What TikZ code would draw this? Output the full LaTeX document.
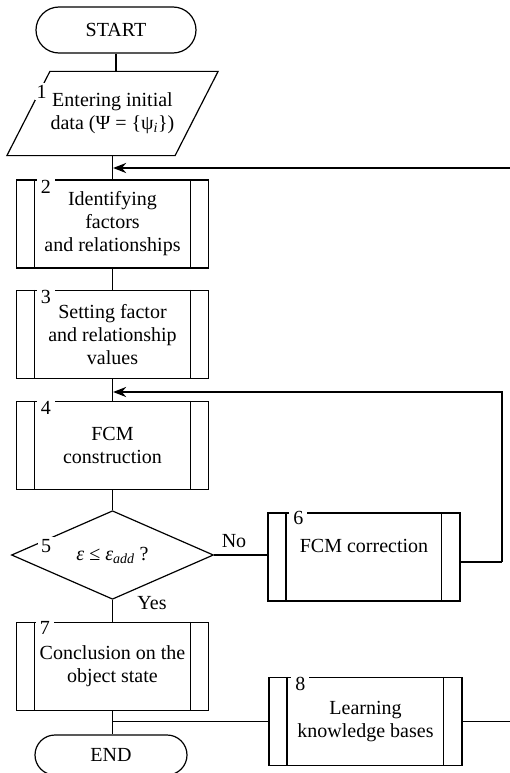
\documentclass[tikz,border=0pt]{standalone}
\usepackage{fontspec}
\setmainfont{Liberation Serif}
\usetikzlibrary{shapes.geometric,shapes.misc,arrows.meta,calc}

\begin{document}
\begin{tikzpicture}[x=1bp, y=-1bp, line width=1.2bp,
  txt/.style={font=\fontsize{20bp}{23bp}\selectfont, align=center},
  term/.style={txt, draw, rounded rectangle, minimum width=160bp, minimum height=46bp, inner sep=0pt},
  procbox/.style={txt, draw, rectangle, minimum width=192bp, minimum height=88bp, inner sep=0pt},
  numlab/.style={fill=white, inner xsep=4bp, inner ysep=2bp, font=\fontsize{20bp}{20bp}\selectfont},
  fb/.style={line width=2.2bp, line join=miter, shorten >=0.6bp, -{Stealth[length=13bp,width=10bp]}}]
\useasboundingbox (0,0) rectangle (510,773);

% terminals, input and process blocks
\node[term] (start) at (116,30) {START};
\node[txt, minimum width=210bp, minimum height=83bp, inner sep=0pt] (n1) at (112.5,113.5)
  {Entering initial\\data (Ψ = \{ψ\textsubscript{\itshape i}\})};
\draw ([xshift=43bp]n1.north west) -- (n1.north east) -- ([xshift=-43bp]n1.south east) -- (n1.south west) -- cycle;
\node[numlab, inner xsep=2bp] (l1) at (41.5,91.5) {1};

\node[procbox] (b2) at (112.5,224) {Identifying\\factors\\and relationships};
\node[procbox] (b3) at (112.5,334.5) {Setting factor\\and relationship\\values};
\node[procbox] (b4) at (112.5,445.5) {FCM\\construction};
\node[txt, draw, diamond, minimum width=202bp, minimum height=84bp, inner sep=0pt] (d5) at (112.5,555)
  {{\itshape ε} ≤ {\itshape ε}\textsubscript{\itshape add} ?};
\node[procbox] (b6) at (364,557) {FCM correction\\\mbox{}};
\node[procbox] (b7) at (112.5,666.5) {Conclusion on the\\object state};
\node[procbox, minimum width=193bp] (b8) at (365.5,721.5) {Learning\\knowledge bases};
\node[term, minimum width=152bp, minimum height=40bp] (end) at (111,755) {END};

% block numbers sitting on the frames
\node[numlab] (l2) at ([xshift=30bp,yshift=-7bp]b2.north west) {2};
\node[numlab] (l3) at ([xshift=30bp,yshift=-7bp]b3.north west) {3};
\node[numlab] (l4) at ([xshift=30bp,yshift=-7bp]b4.north west) {4};
\node[numlab, inner xsep=3bp] (l5) at (46,546) {5};
\node[numlab] (l6) at ([xshift=31bp,yshift=-6bp]b6.north west) {6};
\node[numlab] (l8) at ([xshift=32bp,yshift=-7bp]b8.north west) {8};

% predefined-process side bars
\foreach \b in {b2,b3,b4,b6,b7,b8} {
  \draw ([xshift=18.5bp]\b.north west) -- ([xshift=18.5bp]\b.south west);
  \draw ([xshift=-19bp]\b.north east) -- ([xshift=-19bp]\b.south east);
}
\node[numlab] (l7) at ([xshift=29bp,yshift=-6bp]b7.north west) {7};

% main flow
\draw (start.south) -- (start.south |- n1.north);
\draw (n1.south) -- (b2.north);
\draw (b2) -- (b3);
\draw (b3) -- (b4);
\draw (b4) -- (d5);
\draw (d5.south) -- (b7.north);
\draw (b7.south) -- (b7.south |- end.north);
\draw (d5.east) -- (d5.east -| b6.west);
\node[txt] (no) at (234,541) {No};
\node[txt] (yes) at (152,603) {Yes};
\draw (b8.west -| b7.south) -- (b8.west);

% feedback loops
\coordinate (e1) at (510,168);
\draw[fb] (e1) -- (e1 -| n1.south);
\coordinate (r6) at (502,392);
\draw ([yshift=-5bp]b6.east) -- ([yshift=-5bp]b6.east -| r6);
\draw[fb] ([yshift=-5bp]b6.east -| r6) -- (r6) -- (r6 -| b4.north);
\coordinate (e8) at (510,721.5);
\draw (b8.east) -- (e8);
\end{tikzpicture}
\end{document}
